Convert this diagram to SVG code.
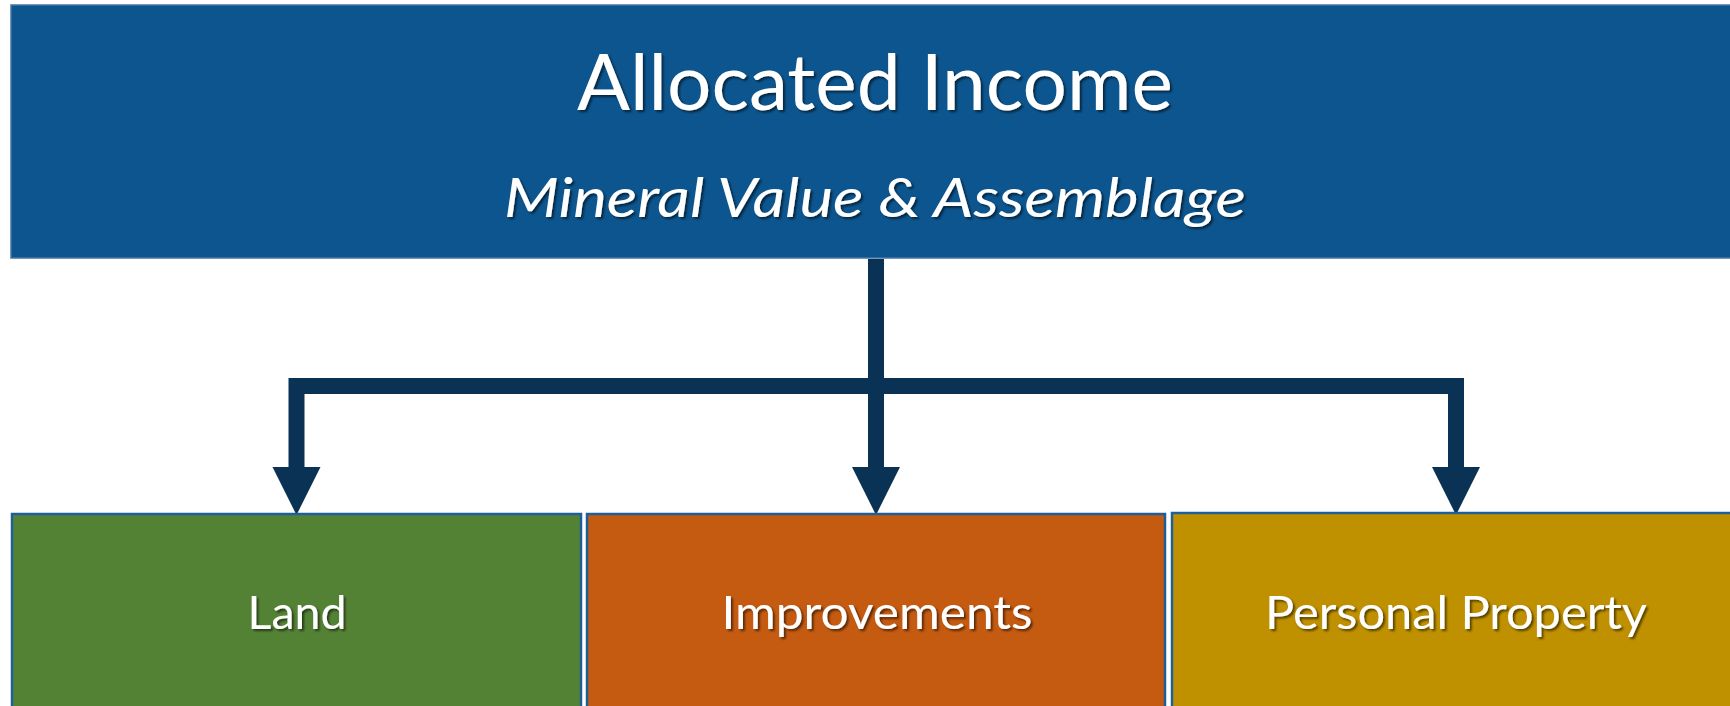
<svg xmlns="http://www.w3.org/2000/svg" width="1730" height="706" viewBox="0 0 1730 706">
  <defs>
    <filter id="ts" x="-10%" y="-30%" width="120%" height="160%">
      <feDropShadow dx="2" dy="2" stdDeviation="1.2" flood-color="#000" flood-opacity="0.55"/>
    </filter>
  </defs>
  <style>
    .lbl { font-family: Lato, "Open Sans", "Liberation Sans", sans-serif; fill: #ffffff; text-anchor: middle; filter: url(#ts); }
    .box { stroke: #1F5F99; stroke-width: 2.5; }
    .conn { fill: #0A3254; stroke: none; }
  </style>
  <rect width="1730" height="706" fill="#ffffff"/>

  <g id="top">
    <rect x="11" y="5" width="1730" height="253" fill="#0C558E" stroke="#4676A4" stroke-width="1.5"/>
    <text class="lbl" x="875" y="110" font-size="77" textLength="596" lengthAdjust="spacingAndGlyphs">Allocated Income</text>
    <text class="lbl" x="875" y="217" font-size="55" font-style="italic" textLength="742" lengthAdjust="spacingAndGlyphs">Mineral Value &amp; Assemblage</text>
  </g>

  <g id="connectors">
    <polygon class="conn" points="868,259 884,259 884,394 304.5,394 304.5,467 320.5,467 296.5,515 272.5,467 288.5,467 288.5,378 868,378"/>
    <polygon class="conn" points="868,259 884,259 884,467 900,467 876,515 852,467 868,467"/>
    <polygon class="conn" points="868,259 884,259 884,378 1464,378 1464,467 1480,467 1456,515 1432,467 1448,467 1448,394 868,394"/>
  </g>

  <g id="land">
    <rect class="box" x="12" y="514" width="569" height="220" fill="#548235"/>
    <text class="lbl" x="297" y="629" font-size="46" textLength="99" lengthAdjust="spacingAndGlyphs">Land</text>
  </g>
  <g id="improvements">
    <rect class="box" x="587" y="514" width="578" height="220" fill="#C55A11"/>
    <text class="lbl" x="877" y="629" font-size="46" textLength="311" lengthAdjust="spacingAndGlyphs">Improvements</text>
  </g>
  <g id="personal-property">
    <rect class="box" x="1172" y="513" width="600" height="220" fill="#BF9000"/>
    <text class="lbl" x="1456" y="629" font-size="46" textLength="382" lengthAdjust="spacingAndGlyphs">Personal Property</text>
  </g>
</svg>
